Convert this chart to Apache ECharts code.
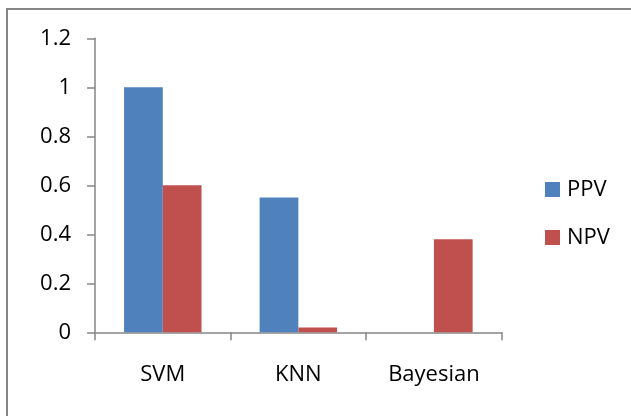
<!DOCTYPE html>
<html>
<head>
<meta charset="utf-8">
<script src="https://cdn.jsdelivr.net/npm/echarts@6/dist/echarts.min.js"></script>
<style>
  html, body { margin: 0; padding: 0; background: #fff; }
  #chart { width: 631px; height: 416px; }
</style>
</head>
<body>
<div id="chart"></div>
<script>
// Classifier predictive values
const categories = ['SVM', 'KNN', 'Bayesian'];
const ppv = [1.0, 0.55, 0];
const npv = [0.6, 0.02, 0.38];
const yTicks = [0, 0.2, 0.4, 0.6, 0.8, 1, 1.2];

const font = '"Open Sans", "Noto Sans", sans-serif';
const axisGray = '#868686';

const chart = echarts.init(document.getElementById('chart'), null, { renderer: 'canvas' });

chart.setOption({
  animation: false,
  backgroundColor: '#ffffff',
  textStyle: { fontFamily: font },
  graphic: [
    {
      // outer frame (top and left edges fall inside the canvas)
      type: 'rect',
      shape: { x: 7, y: 9, width: 700, height: 500 },
      style: { fill: 'none', stroke: axisGray, lineWidth: 2 },
      silent: true
    }
  ],
  grid: { left: 95, right: 129.3, top: 38.3, bottom: 83.7, containLabel: false },
  legend: {
    orient: 'vertical',
    left: 545,
    top: 174.5,
    padding: 0,
    itemWidth: 15,
    itemHeight: 15,
    itemGap: 18,
    icon: 'rect',
    textStyle: { fontFamily: font, fontSize: 22, color: '#000', lineHeight: 30, padding: [0, 0, 0, 2] },
    data: ['PPV', 'NPV']
  },
  xAxis: {
    type: 'category',
    data: categories,
    axisLine: { show: true, lineStyle: { color: axisGray, width: 1.5 } },
    axisTick: { show: true, length: 8, inside: false, alignWithLabel: false, lineStyle: { color: axisGray, width: 1.5 } },
    axisLabel: { margin: 31, fontFamily: font, fontSize: 22, color: '#000' },
    splitLine: { show: false }
  },
  yAxis: {
    type: 'value',
    min: yTicks[0],
    max: yTicks[yTicks.length - 1],
    interval: 0.2,
    axisLine: { show: true, lineStyle: { color: axisGray, width: 1.5 } },
    axisTick: { show: true, length: 8, lineStyle: { color: axisGray, width: 1.5 } },
    axisLabel: {
      margin: 24,
      fontFamily: font,
      fontSize: 22,
      color: '#000',
      formatter: v => String(parseFloat(v.toFixed(1)))
    },
    splitLine: { show: false }
  },
  series: [
    {
      name: 'PPV',
      type: 'bar',
      data: ppv,
      barGap: '0%',
      barCategoryGap: '42.86%',
      itemStyle: { color: '#4F81BD' }
    },
    {
      name: 'NPV',
      type: 'bar',
      data: npv,
      barGap: '0%',
      barCategoryGap: '42.86%',
      itemStyle: { color: '#C0504D' }
    }
  ]
});
</script>
</body>
</html>
